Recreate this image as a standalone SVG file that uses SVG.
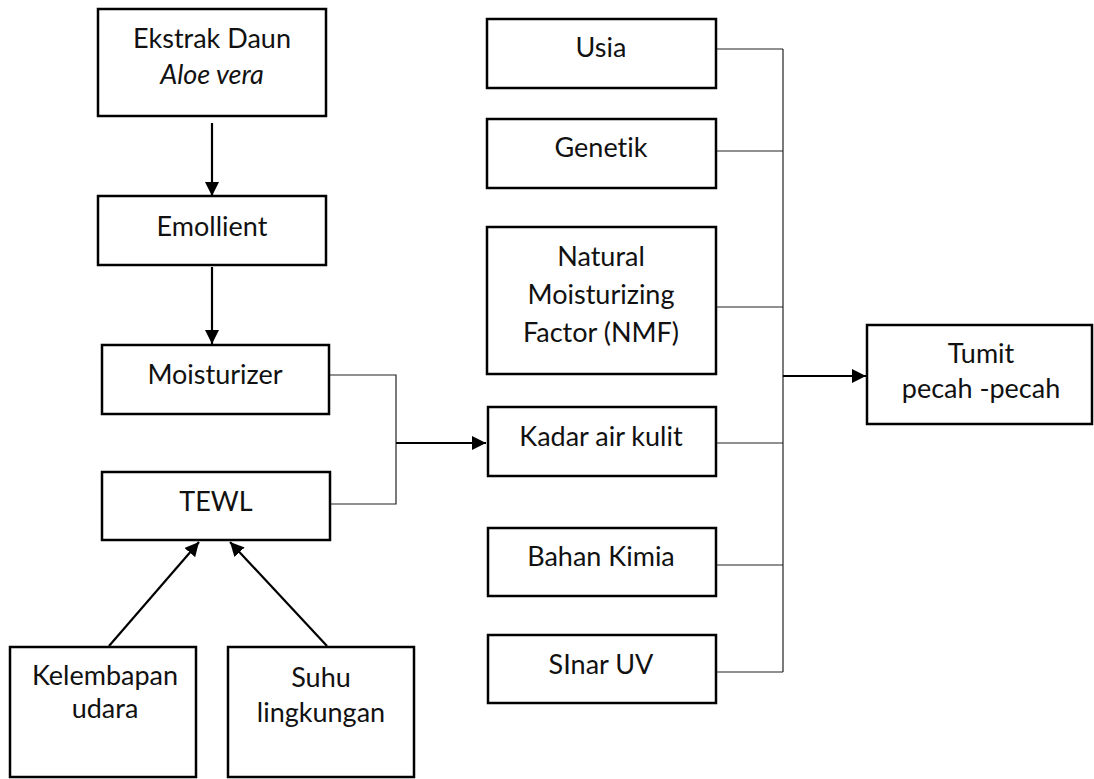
<svg xmlns="http://www.w3.org/2000/svg" width="1094" height="779" viewBox="0 0 1094 779">
<defs>
<style>
.box{fill:#fff;stroke:#000;stroke-width:2.5}
.t{font-family:Lato,"Open Sans","Liberation Sans",sans-serif;font-size:27px;fill:#111;text-anchor:middle;font-variant-ligatures:none;font-feature-settings:"liga" 0}
.i{font-style:italic}
.thin{fill:none;stroke:#222;stroke-width:1.2}
.arr{fill:none;stroke:#000;stroke-width:2.2;marker-end:url(#ah)}
</style>
<marker id="ah" markerUnits="userSpaceOnUse" markerWidth="15" markerHeight="14" refX="14" refY="7" orient="auto">
<path d="M0,0 L14,7 L0,14 z" fill="#000"/>
</marker>
</defs>
<rect width="1094" height="779" fill="#fff"/>
<g id="connectors">
<line class="arr" x1="212" y1="123" x2="212" y2="196"/>
<line class="arr" x1="212" y1="267" x2="212" y2="344"/>
<polyline class="thin" points="330,375 396,375 396,504 331,504"/>
<line class="arr" x1="396" y1="443" x2="486" y2="443"/>
<line class="arr" x1="109" y1="646" x2="199" y2="542"/>
<line class="arr" x1="327" y1="646" x2="230" y2="542"/>
<line class="thin" x1="717" y1="49" x2="783" y2="49"/>
<line class="thin" x1="717" y1="151" x2="783" y2="151"/>
<line class="thin" x1="717" y1="307" x2="783" y2="307"/>
<line class="thin" x1="717" y1="443" x2="783" y2="443"/>
<line class="thin" x1="717" y1="565" x2="783" y2="565"/>
<line class="thin" x1="717" y1="672" x2="783" y2="672"/>
<line class="thin" x1="783" y1="49" x2="783" y2="672"/>
<line class="arr" x1="783" y1="376" x2="866" y2="376"/>
</g>
<g id="n-ekstrak"><rect class="box" x="98" y="9" width="228" height="107"/>
<text class="t" x="212" y="48">Ekstrak Daun</text><text class="t i" x="212" y="84">Aloe vera</text></g>
<g id="n-emollient"><rect class="box" x="98" y="196" width="228" height="69"/>
<text class="t" x="212" y="236">Emollient</text></g>
<g id="n-moisturizer"><rect class="box" x="102" y="345" width="227" height="69"/>
<text class="t" x="215" y="384">Moisturizer</text></g>
<g id="n-tewl"><rect class="box" x="102" y="472" width="228" height="68"/>
<text class="t" x="216" y="511">TEWL</text></g>
<g id="n-kelembapan"><rect class="box" x="10" y="647" width="186" height="130"/>
<text class="t" x="105" y="685">Kelembapan</text><text class="t" x="105" y="718">udara</text></g>
<g id="n-suhu"><rect class="box" x="228" y="647" width="186" height="130"/>
<text class="t" x="321" y="687">Suhu</text><text class="t" x="321" y="722">lingkungan</text></g>
<g id="n-usia"><rect class="box" x="487" y="19" width="229" height="69"/>
<text class="t" x="601" y="57">Usia</text></g>
<g id="n-genetik"><rect class="box" x="487" y="119" width="229" height="69"/>
<text class="t" x="601" y="157">Genetik</text></g>
<g id="n-nmf"><rect class="box" x="487" y="227" width="229" height="147"/>
<text class="t" x="601" y="266">Natural</text><text class="t" x="601" y="304">Moisturizing</text><text class="t" x="601" y="342">Factor (NMF)</text></g>
<g id="n-kadar"><rect class="box" x="488" y="407" width="228" height="69"/>
<text class="t" x="601" y="446">Kadar air kulit</text></g>
<g id="n-bahan"><rect class="box" x="488" y="528" width="228" height="68"/>
<text class="t" x="601" y="566">Bahan Kimia</text></g>
<g id="n-sinar"><rect class="box" x="488" y="635" width="228" height="68"/>
<text class="t" x="601" y="674">SInar UV</text></g>
<g id="n-tumit"><rect class="box" x="867" y="325" width="225" height="99"/>
<text class="t" x="981" y="363">Tumit</text><text class="t" x="981" y="398">pecah -pecah</text></g>
</svg>
